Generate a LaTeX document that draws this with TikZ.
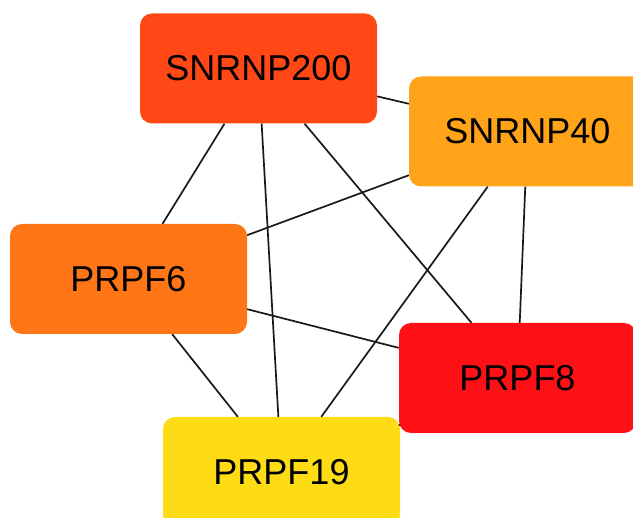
\documentclass[tikz,border=0pt]{standalone}
\usepackage{fontspec}
\setmainfont{Liberation Sans}
\definecolor{cSNRNPtwo}{RGB}{255,72,22}
\definecolor{cSNRNPforty}{RGB}{255,164,24}
\definecolor{cPRPFsix}{RGB}{255,118,22}
\definecolor{cPRPFeight}{RGB}{255,16,22}
\definecolor{cPRPFnineteen}{RGB}{253,220,22}
\begin{document}
\begin{tikzpicture}[x=1pt,y=-1pt,
  gene/.style={rectangle, rounded corners=12pt, minimum width=237pt,
    minimum height=110pt, inner sep=0pt, draw=none,
    font=\fontsize{36}{40}\selectfont, text=black},
  link/.style={draw=black!90, line width=1.7pt}]
  \useasboundingbox (0,0) rectangle (633,518);
  \clip (0,0) rectangle (633,518);
  % protein nodes
  \node[gene, fill=cSNRNPtwo]     (s200) at (258.5,68.5) {SNRNP200};
  \node[gene, fill=cSNRNPforty]   (s40)  at (527.5,131.5) {SNRNP40};
  \node[gene, fill=cPRPFsix]      (p6)   at (128.5,279) {PRPF6};
  \node[gene, fill=cPRPFeight]    (p8)   at (517.5,378) {PRPF8};
  \node[gene, fill=cPRPFnineteen] (p19)  at (281.5,472) {PRPF19};
  % interactions
  \draw[link] (s200) -- (s40);
  \draw[link] (s200) -- (p6);
  \draw[link] (s200) -- (p19);
  \draw[link] (s200) -- (p8);
  \draw[link] (s40) -- (p6);
  \draw[link] (s40) -- (p19);
  \draw[link] (s40) -- (p8);
  \draw[link] (p6) -- (p8);
  \draw[link] (p6) -- (p19);
  \draw[link] (p8) -- (p19);
\end{tikzpicture}
\end{document}
